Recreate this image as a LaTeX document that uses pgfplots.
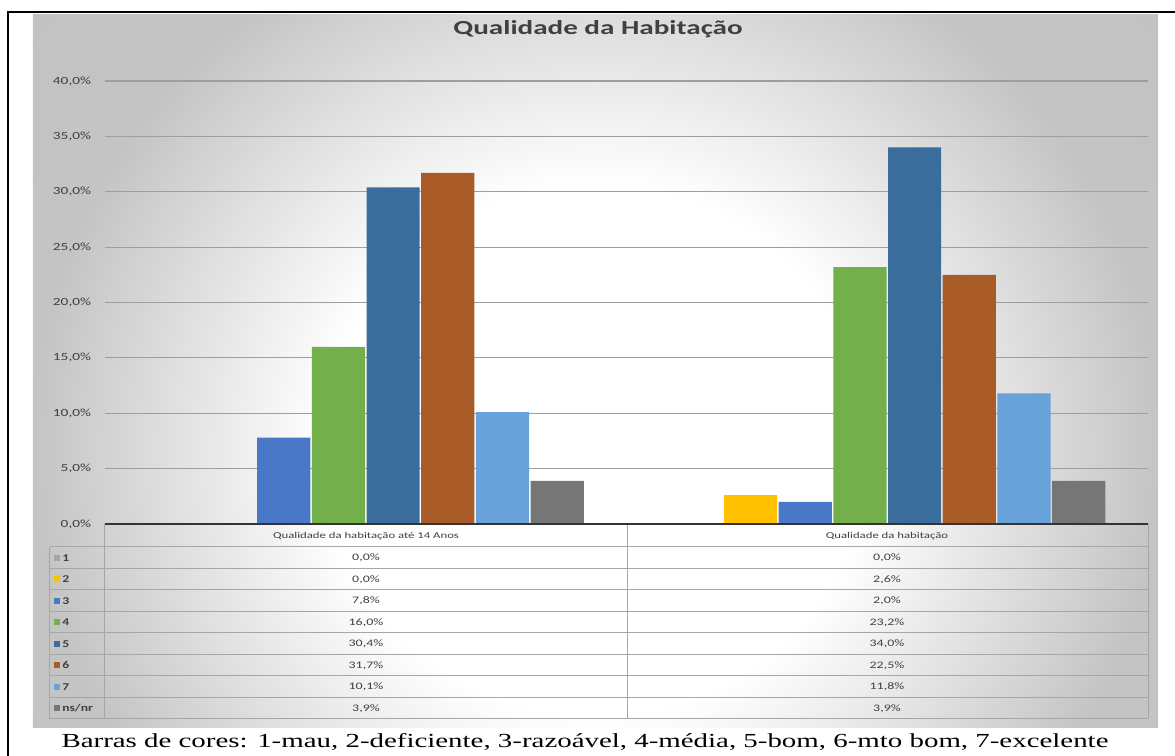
\documentclass[border=0pt]{standalone}
\usepackage{fontspec}
\setmainfont{Carlito}
\newfontfamily\timesfont{Liberation Serif}
\usepackage{pgfplots}
\pgfplotsset{compat=1.18}

\definecolor{c1}{HTML}{A5A5A5}
\definecolor{c2}{HTML}{FFC000}
\definecolor{c3}{HTML}{4A78C9}
\definecolor{c4}{HTML}{73B04B}
\definecolor{c5}{HTML}{3A6C9C}
\definecolor{c6}{HTML}{A95B28}
\definecolor{c7}{HTML}{69A2D8}
\definecolor{c8}{HTML}{767676}
\definecolor{txt}{HTML}{404040}

\pgfdeclareradialshading{chartbg}{\pgfpoint{0bp}{0bp}}{color(0bp)=(white); color(12bp)=(white); color(25bp)=(black!23); color(50bp)=(black!26)}
\pgfdeclarelayer{bg}
\pgfsetlayers{bg,main}

% page coordinates: (px,-py) with the axis origin at pixel (105,524)
\tikzset{page/.style={x=1bp, y=1bp, shift={(o)}, shift={(-105,524)}}}

\begin{document}
\begin{tikzpicture}
  \begin{axis}[
      scale only axis, width=1043bp, height=443bp,
      xmin=-0.5, xmax=1.5, ymin=0, ymax=40,
      ybar=1.5bp, bar width=0.102,
      axis line style={draw=none},
      major tick length=0pt,
      xtick=\empty,
      ytick={0,5,...,40},
      yticklabels={{0,0\%},{5,0\%},{10,0\%},{15,0\%},{20,0\%},{25,0\%},{30,0\%},{35,0\%},{40,0\%}},
      yticklabel style={font=\fontsize{11}{13}\selectfont, text=txt, xshift=-9bp, xscale=1.4},
      ymajorgrids, grid style={black!38, line width=1.2bp},
    ]
    \coordinate (o) at (rel axis cs:0,0);
    \addplot[fill=c1, draw=none] coordinates {(0,0.0) (1,0.0)};
    \addplot[fill=c2, draw=none] coordinates {(0,0.0) (1,2.6)};
    \addplot[fill=c3, draw=none] coordinates {(0,7.8) (1,2.0)};
    \addplot[fill=c4, draw=none] coordinates {(0,16.0) (1,23.2)};
    \addplot[fill=c5, draw=none] coordinates {(0,30.4) (1,34.0)};
    \addplot[fill=c6, draw=none] coordinates {(0,31.7) (1,22.5)};
    \addplot[fill=c7, draw=none] coordinates {(0,10.1) (1,11.8)};
    \addplot[fill=c8, draw=none] coordinates {(0,3.9) (1,3.9)};
  \end{axis}

  \begin{scope}[page]
    % chart area background, behind the axis
    \begin{pgfonlayer}{bg}
      \begin{scope}
        \clip (33,-15) rectangle (1158,-728);
        \shade[shading=chartbg] (33,100) rectangle (1158,-1000);
      \end{scope}
    \end{pgfonlayer}

    % title
    \node[font=\bfseries\fontsize{20}{24}\selectfont, text=txt, xscale=1.46] at (598,-29) {Qualidade da Habitação};

    % data table
    \begin{scope}[draw=black!35, line width=1bp]
      \foreach \k in {0,...,8} \draw (50,{-547-21.5*\k}) -- (1148,{-547-21.5*\k});
      \draw (50,-547) -- (50,-719);
      \draw (105,-524) -- (105,-719);
      \draw (627,-524) -- (627,-719);
      \draw (1148,-524) -- (1148,-719);
    \end{scope}
    \draw[black!80, line width=1.5bp] (105,-524) -- (1148,-524);

    \begin{scope}[font=\fontsize{9}{11}\selectfont, text=txt]
      \node[xscale=1.42] at (366,-536) {Qualidade da habitação até 14 Anos};
      \node[xscale=1.42] at (887,-536) {Qualidade da habitação};
    \end{scope}

    \pgfkeys{/pgf/number format/.cd, use comma, fixed, fixed zerofill, precision=1, assume math mode=true}
    \foreach \lab/\col/\a/\b [count=\i from 0] in {
        1/c1/0.0/0.0, 2/c2/0.0/2.6, 3/c3/7.8/2.0, 4/c4/16.0/23.2,
        5/c5/30.4/34.0, 6/c6/31.7/22.5, 7/c7/10.1/11.8, ns\slash nr/c8/3.9/3.9} {
      \pgfmathsetmacro{\yy}{-557.75-21.5*\i}
      \fill[\col] (54.5,\yy-2.8) rectangle ++(5.6,5.6);
      \node[anchor=west, inner sep=0pt, font=\bfseries\fontsize{10.5}{12}\selectfont, text=txt, xscale=1.3] at (62,\yy) {\lab};
      \node[font=\fontsize{10}{12}\selectfont, text=txt, xscale=1.4] at (366,\yy) {\pgfmathprintnumber{\a}\%};
      \node[font=\fontsize{10}{12}\selectfont, text=txt, xscale=1.4] at (887,\yy) {\pgfmathprintnumber{\b}\%};
    }

    % caption and frame
    \node[font=\timesfont\fontsize{20}{24}\selectfont, xscale=1.45] at (585,-742) {Barras de cores: 1-mau, 2-deficiente, 3-razoável, 4-média, 5-bom, 6-mto bom, 7-excelente};
    \draw[line width=2bp] (8,-780) -- (8,-12) -- (1190,-12);

    \pgfresetboundingbox
    \path[use as bounding box] (0,0) rectangle (1175,-756);
  \end{scope}
\end{tikzpicture}
\end{document}
